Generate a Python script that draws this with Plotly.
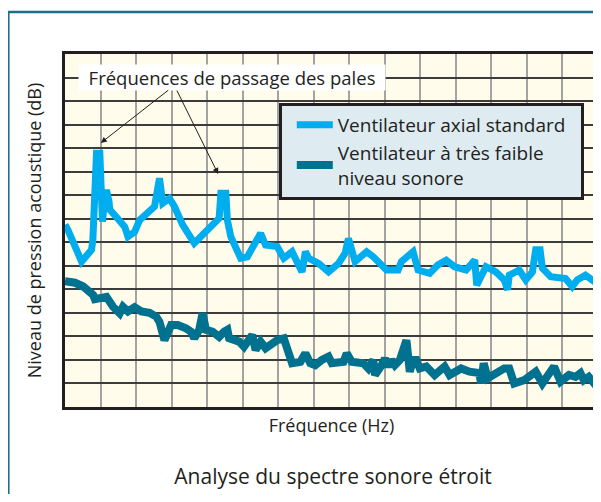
import plotly.graph_objects as go

# Standard axial fan (Hz, dB)
std_freq = [0, 8.4, 46.7, 74.7, 78.4, 82.0, 88.7, 98.0, 105.5, 112.0, 116.7, 124.0, 125.9, 139.9,
            167.9, 177.2, 195.9, 209.9, 251.9, 265.9, 275.1, 293.9, 307.9, 331.1, 363.8, 433.8,
            438.6, 452.6, 457.0, 466.6, 494.5, 513.0, 550.5, 564.5, 597.0, 615.7, 639.0, 667.0,
            676.5, 685.7, 713.7, 741.7, 769.7, 788.4, 797.7, 816.4, 848.9, 867.6, 904.9, 937.6,
            946.8, 979.6, 993.6, 1026.3, 1049.6, 1072.8, 1096.3, 1128.8, 1153.1, 1158.7, 1184.7,
            1212.7, 1236.2, 1245.5, 1250.2, 1278.2, 1296.7, 1315.4, 1324.7, 1337.0, 1343.4,
            1366.7, 1408.6, 1427.4, 1441.4, 1464.6, 1500.0]
std_db = [68.7, 67.6, 60.9, 63.4, 65.5, 76.1, 83.9, 83.9, 69.4, 74.7, 76.1, 73.6, 71.9, 70.8,
          68.3, 66.2, 67.2, 69.7, 72.6, 78.6, 73.3, 74.3, 72.6, 68.7, 64.8, 70.1,
          75.4, 75.4, 69.7, 66.2, 61.6, 61.9, 66.9, 64.4, 64.1, 61.6, 63.0, 58.7,
          63.0, 61.6, 60.5, 58.7, 60.5, 62.7, 65.8, 60.9, 63.0, 61.9, 59.1, 59.1,
          60.9, 63.0, 59.1, 58.4, 60.2, 61.2, 59.8, 59.1, 61.2, 55.9, 59.8,
          58.7, 57.0, 54.9, 58.0, 59.1, 57.0, 58.7, 63.4, 63.4, 59.5,
          57.7, 57.3, 55.6, 57.0, 58.0, 56.1]

# Very low noise fan (Hz, dB)
low_freq = [0, 28.0, 51.2, 79.2, 84.0, 116.7, 135.2, 153.9, 163.2, 177.2, 195.9, 214.7, 237.9,
            256.6, 265.9, 275.1, 279.9, 298.6, 317.1, 340.6, 354.6, 363.8, 377.8, 387.1, 396.6,
            415.1, 433.8, 447.8, 457.0, 461.8, 489.8, 503.8, 527.0, 536.5, 550.5, 564.5, 583.0,
            597.0, 615.7, 625.0, 639.0, 662.5, 676.5, 690.5, 704.5, 722.9, 741.7, 750.9, 783.7,
            792.9, 806.9, 839.6, 853.6, 867.6, 872.4, 890.9, 900.4, 909.6, 918.8, 928.4, 942.4,
            960.8, 970.3, 979.6, 988.8, 998.3, 1016.8, 1040.3, 1068.3, 1082.3, 1114.8, 1138.3,
            1166.3, 1170.8, 1178.3, 1189.5, 1208.2, 1236.2, 1250.2, 1264.2, 1292.2, 1324.7,
            1343.4, 1362.2, 1376.2, 1394.6, 1418.2, 1436.6, 1450.6, 1460.1, 1474.1, 1500.0]
low_db = [56.7, 56.4, 55.6, 53.8, 52.9, 53.4, 51.3, 49.9, 51.3, 50.3, 51.2, 50.3, 50.0,
          49.2, 48.1, 44.9, 44.2, 47.4, 47.4, 46.7, 46.0, 44.6, 46.4, 49.9, 46.4,
          46.0, 44.9, 46.0, 46.4, 44.6, 43.9, 42.8, 45.3, 42.1, 43.9, 42.5, 43.5,
          44.2, 44.6, 42.1, 39.3, 39.6, 41.4, 39.3, 38.9, 40.0, 40.7, 39.3, 39.6,
          41.4, 39.6, 39.3, 38.2, 40.0, 36.8, 38.9, 40.3, 38.6, 40.0, 38.9, 40.0,
          44.2, 37.5, 40.0, 40.0, 38.2, 38.6, 36.8, 38.6, 36.8, 38.2, 37.5,
          37.2, 35.0, 39.3, 36.1, 36.8, 38.2, 38.2, 35.0, 35.7, 37.5,
          35.0, 36.8, 38.6, 35.4, 36.8, 36.4, 37.2, 35.7, 36.4, 34.0]

series_names = ["Ventilateur axial standard\u00a0\u00a0", "Ventilateur à très faible<br>niveau sonore"]
annotation_text = "Fréquences de passage des pales"
peak_freqs = [100.8, 431.0]
peak_dbs = [86.1, 79.5]

FONT = "Open Sans"
INK = "#231f20"
OFF = 8  # page body margin

fig = go.Figure()
fig.add_trace(go.Scatter(x=std_freq, y=std_db, mode="lines", name=series_names[0],
                         line=dict(color="#00adef", width=7)))
fig.add_trace(go.Scatter(x=low_freq, y=low_db, mode="lines", name=series_names[1],
                         line=dict(color="#00718f", width=8)))

W, H = 601 - OFF, 502 - 2 * OFF
L, T, B_px = 65 - OFF, 54 - OFF, 407 - OFF
PW = 536
fig.update_layout(
    width=W, height=H,
    margin=dict(l=L, r=W - L - PW, t=T, b=H - B_px),
    paper_bgcolor="white",
    plot_bgcolor="#fffcec",
    font=dict(family=FONT, color=INK),
    title=dict(text="Analyse du spectre sonore étroit", x=(333 - OFF) / W, xanchor="center",
               xref="container", yref="container", y=1 - (477 - OFF) / H, yanchor="middle",
               font=dict(size=21, family=FONT, color=INK)),
    showlegend=True,
    legend=dict(x=(280-65)/536, y=(407-103)/353, xanchor="left", yanchor="top",
                bgcolor="#deebf1", bordercolor=INK, borderwidth=3,
                font=dict(size=19, family=FONT, color=INK), itemwidth=36,
                indentation=10, tracegroupgap=0),
)
fig.update_xaxes(range=[0, 1500], dtick=100, showticklabels=False, ticks="",
                 showgrid=True, gridcolor="#a3a3a3", gridwidth=1.5, zeroline=False,
                 showline=True, linecolor=INK, linewidth=3, mirror=True,
                 title=dict(text="Fréquence (Hz)", font=dict(size=18, family=FONT, color=INK),
                            standoff=11))
fig.update_yaxes(range=[30, 105], dtick=5, showticklabels=False, ticks="",
                 showgrid=True, gridcolor="#3c3c3c", gridwidth=1.5, zeroline=False,
                 showline=True, linecolor=INK, linewidth=3, mirror=True,
                 title=dict(text="Niveau de pression acoustique (dB)",
                            font=dict(size=18, family=FONT, color=INK), standoff=16))

# outer teal frame
fig.add_shape(type="rect", xref="paper", yref="paper",
              x0=(8-65)/536, x1=1.2, y0=-0.5, y1=(407-12)/353,
              line=dict(color="#1c6e8a", width=2.5), fillcolor="rgba(0,0,0,0)", layer="below")

# label box
fig.add_annotation(text="\u00a0\u00a0" + annotation_text + "\u00a0\u00a0",
                   xref="paper", yref="paper",
                   x=(233-65)/536, y=(407-77.5)/353, xanchor="center", yanchor="middle",
                   showarrow=False, bgcolor="white", borderpad=0,
                   font=dict(size=18.5, family=FONT, color=INK))
# arrows to blade-pass peaks
for fx, fy, ax, ay in zip(peak_freqs, peak_dbs, [69, -42], [-54, -85]):
    fig.add_annotation(x=fx, y=fy, text="", showarrow=True, ax=ax, ay=ay,
                       arrowhead=2, arrowsize=1.2, arrowwidth=1, arrowcolor=INK)

fig.write_html("out.html")
